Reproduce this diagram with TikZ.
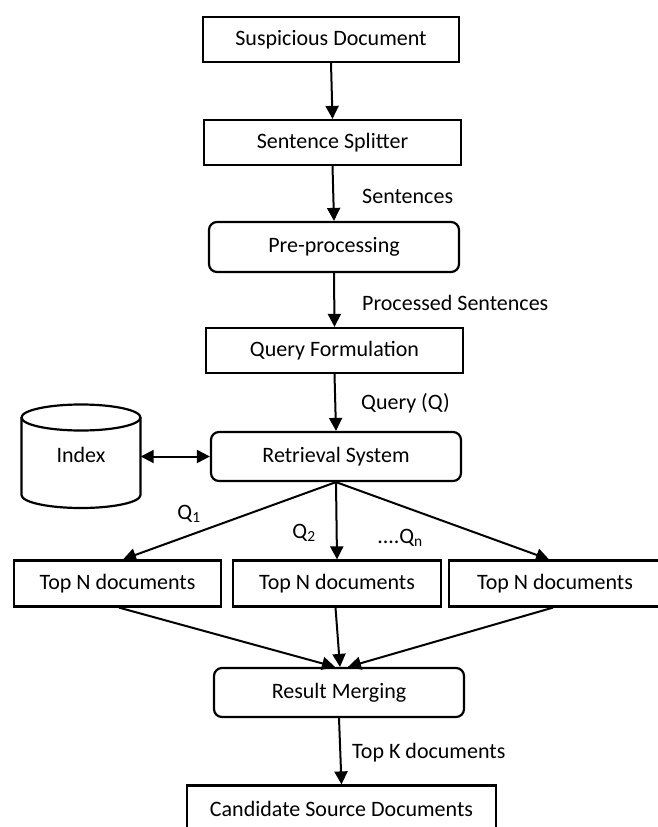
\documentclass[tikz,border=0pt]{standalone}
\usepackage{fontspec}
\setmainfont{Carlito}
\usetikzlibrary{arrows.meta}
\begin{document}
\begin{tikzpicture}[x=1pt,y=-1pt,
  txt/.style={font=\fontsize{22pt}{26pt}\selectfont, inner sep=0pt},
  sqbox/.style={txt, draw, line width=2.2pt, minimum height=45pt},
  rbox/.style={txt, draw, line width=2.2pt, rounded corners=8pt, minimum height=49pt},
  lbl/.style={txt, anchor=west},
  arr/.style={line width=2pt, -{Triangle[length=13pt,width=13pt]}},
  darr/.style={line width=2pt, {Triangle[length=13pt,width=13pt]}-{Triangle[length=13pt,width=13pt]}}
]
\useasboundingbox (0,0) rectangle (657,827);
\fill[white] (0,0) rectangle (657,827);

\node[sqbox, minimum width=256pt] (sd) at (331,39.5) {Suspicious Document};
\node[sqbox, minimum width=257pt] (ss) at (332.5,142.5) {Sentence Splitter};
\node[rbox, minimum width=250pt, minimum height=50pt] (pp) at (334,247) {Pre-processing};
\node[sqbox, minimum width=257pt] (qf) at (334.5,350.5) {Query Formulation};
\node[rbox, minimum width=250pt] (rs) at (336,456.5) {Retrieval System};

% index cylinder
\node[txt, minimum width=119pt, minimum height=104pt] (index) at (81,456.5) {};
\draw[line width=2.2pt, fill=white] (140.5,417.5) -- (140.5,495) arc (0:180:59.5 and 13) -- (21.5,417.5);
\draw[line width=2.2pt] (81,417.5) ellipse (59.5 and 13);
\node[txt] (indextxt) at (81,455) {Index};

\node[sqbox, minimum width=207pt, minimum height=46pt] (t1) at (117.5,583.5) {Top N documents};
\node[sqbox, minimum width=208pt, minimum height=46pt] (t2) at (337,583.5) {Top N documents};
\node[sqbox, minimum width=212pt, minimum height=46pt] (t3) at (555,583.5) {Top N documents};

\node[rbox, minimum width=250pt] (rm) at (339,692.5) {Result Merging};
\node[sqbox, minimum width=309pt, minimum height=47pt] (cd) at (341.5,809) {Candidate Source Documents};

% labels
\node[lbl] (l1) at (362,196) {Sentences};
\node[lbl] (l2) at (362,303) {Processed Sentences};
\node[lbl] (l3) at (361,403) {Query (Q)};
\node[lbl] (l4) at (352,753) {Top K documents};
\node[txt] (q1) at (189,514) {Q\textsubscript{1}};
\node[txt] (q2) at (304,533) {Q\textsubscript{2}};
\node[txt] (qn) at (400,538) {....Q\textsubscript{n}};

% connectors
\draw[arr] (sd.south) -- (ss.north);
\draw[arr] (ss.south) -- (pp.north);
\draw[arr] (pp.south) -- (qf.north);
\draw[arr] (qf.south) -- (rs.north);
\draw[darr] (index.east |- rs.west) -- (rs.west);
\draw[arr] (rs.south) -- ([xshift=5.5pt]t1.north);
\draw[arr] (rs.south) -- (t2.north);
\draw[arr] (rs.south) -- ([xshift=-6pt]t3.north);
\draw[arr] ([xshift=1.5pt]t1.south) -- ([xshift=-4pt]rm.north);
\draw[arr] ([xshift=-1.5pt]t2.south) -- ([xshift=1pt]rm.north);
\draw[arr] ([xshift=-2pt]t3.south) -- ([xshift=9pt]rm.north);
\draw[arr] (rm.south) -- (cd.north);
\end{tikzpicture}
\end{document}
